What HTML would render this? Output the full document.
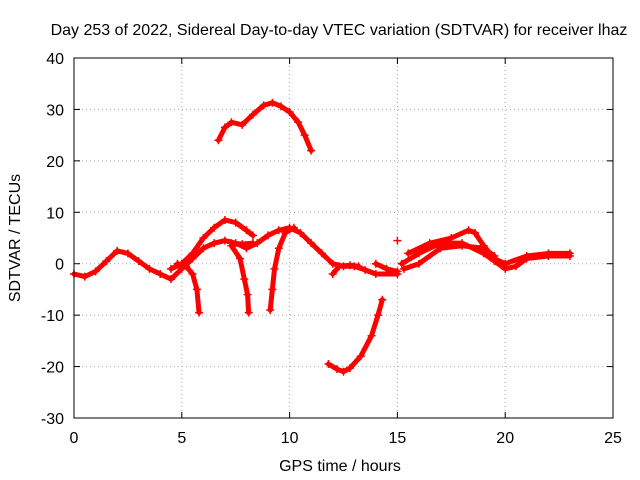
<!DOCTYPE html>
<html><head><meta charset="utf-8"><style>
body{margin:0;background:#fff}
svg{display:block;font-family:"Liberation Sans",sans-serif;font-size:16px}
</style></head><body>
<svg id="c" width="640" height="480">
<text x="339" y="35" text-anchor="middle">Day 253 of 2022, Sidereal Day-to-day VTEC variation (SDTVAR) for receiver lhaz</text>
<text x="340" y="471" text-anchor="middle">GPS time / hours</text>
<text transform="translate(20,238) rotate(-90)" text-anchor="middle">SDTVAR / TECUs</text>
<g id="grid"></g><g id="ticks"></g><g id="marks"></g>
<rect x="74" y="58" width="539" height="360" fill="none" stroke="#000"/>
</svg>
<script>
const xTicks=[0,5,10,15,20,25];
const yTicks=[-30,-20,-10,0,10,20,30,40];
const trackTop=[[6.7,24],[7,26.5],[7.3,27.5],[7.8,27],[8.3,29],[8.8,30.8],[9.2,31.3],[9.6,30.6],[10,29.5],[10.4,27.5],[10.7,25],[11,22]];
const trackLow=[[11.8,-19.5],[12.2,-20.5],[12.5,-21],[12.8,-20.3],[13.3,-18],[13.8,-14],[14.1,-10],[14.3,-7]];
const trackMain=[[0,-2],[0.5,-2.5],[1,-1.5],[1.5,0.5],[2,2.5],[2.5,2],[3,0.5],[3.5,-1],[4,-2],[4.5,-3],[5,-1],[5.5,1],[6,3],[6.5,4],[7,4.5],[7.5,4],[8,3],[8.5,4],[9,5.5],[9.5,6.5],[10,7],[10.5,6],[11,4],[11.5,2],[12,0],[12.5,-0.5],[13,-0.5],[13.5,-1.2],[14,-2],[15,-2]];
const trackPeak=[[4.5,-1],[5,0],[5.5,2],[6,5],[6.5,7],[7,8.5],[7.5,8],[8,6.5],[8.3,5.5]];
const trackDip1=[[4.8,0],[5.2,-0.5],[5.5,-2],[5.7,-5],[5.8,-9.5]];
const trackDip2=[[7.3,3.5],[7.7,1],[7.9,-3],[8.05,-6],[8.1,-9.5]];
const trackRise=[[9.1,-9],[9.2,-5],[9.3,-1],[9.5,3],[9.8,6],[10.2,7]];
const trackFlat=[[7.3,4],[7.8,3.8],[8.3,4]];
const trackR1=[[12,-2],[12.3,-0.5],[12.8,-0.3],[13.2,-0.5]];
const trackR2=[[14,0],[14.5,-1],[15,-1.5]];
const trackR3=[[15.2,0],[16,2],[17,4],[18,4],[19,2],[19.5,0.5],[20,-1],[20.5,-0.5],[21,1],[22,1.5],[23,1.5]];
const trackR4=[[15.5,2],[16.5,4],[17.5,5],[18.3,6.5],[18.6,6],[19,3.5],[19.5,1],[20,0],[21,1.5],[22,2],[23,2]];
const trackR5=[[15.3,-1],[16,0],[17,3],[18,3.5],[19,3],[19.5,1.5]];
const trackDot=[[15,4.5]];
const tracks=[trackTop,trackLow,trackMain,trackPeak,trackDip1,trackDip2,trackRise,trackFlat,trackR1,trackR2,trackR3,trackR4,trackR5,trackDot];
const NS='http://www.w3.org/2000/svg';
const X=v=>74+v*539/25, Y=v=>418-(v+30)*360/70;
function mk(t,a,p){const e=document.createElementNS(NS,t);for(const k in a)e.setAttribute(k,a[k]);p.appendChild(e);return e;}
const g=document.getElementById('grid'),tk=document.getElementById('ticks'),m=document.getElementById('marks');
xTicks.forEach(v=>{const x=X(v);
 if(v>0&&v<25){const l=mk('line',{x1:x,x2:x,y1:58,y2:418,stroke:'#aaa','stroke-dasharray':'1,3'},g);
 }
 mk('line',{x1:x,x2:x,y1:418,y2:412,stroke:'#000'},tk);mk('line',{x1:x,x2:x,y1:58,y2:64,stroke:'#000'},tk);
 const t=mk('text',{x:x,y:443,'text-anchor':'middle'},tk);t.textContent=v;
 });
yTicks.forEach(v=>{const y=Y(v);
 if(v>-30&&v<40){const l=mk('line',{x1:74,x2:613,y1:y,y2:y,stroke:'#aaa','stroke-dasharray':'1,3'},g);
 }
 mk('line',{x1:74,x2:80,y1:y,y2:y,stroke:'#000'},tk);mk('line',{x1:613,x2:607,y1:y,y2:y,stroke:'#000'},tk);
 const t=mk('text',{x:64,y:y+6,'text-anchor':'end'},tk);t.textContent=v;
 });
tracks.forEach(tr=>{
 const pl=mk('polyline',{points:tr.map(p=>X(p[0])+','+Y(p[1])).join(' '),fill:'none',stroke:'#f00','stroke-width':5,'stroke-linejoin':'round','stroke-linecap':'round'},m);
 
 tr.forEach(p=>{const x=X(p[0]),y=Y(p[1]);
  const pt=mk('path',{d:`M${x-4},${y}H${x+4}M${x},${y-4}V${y+4}`,stroke:'#f00','stroke-width':1.5},m);
  });
});
</script>
</body></html>
